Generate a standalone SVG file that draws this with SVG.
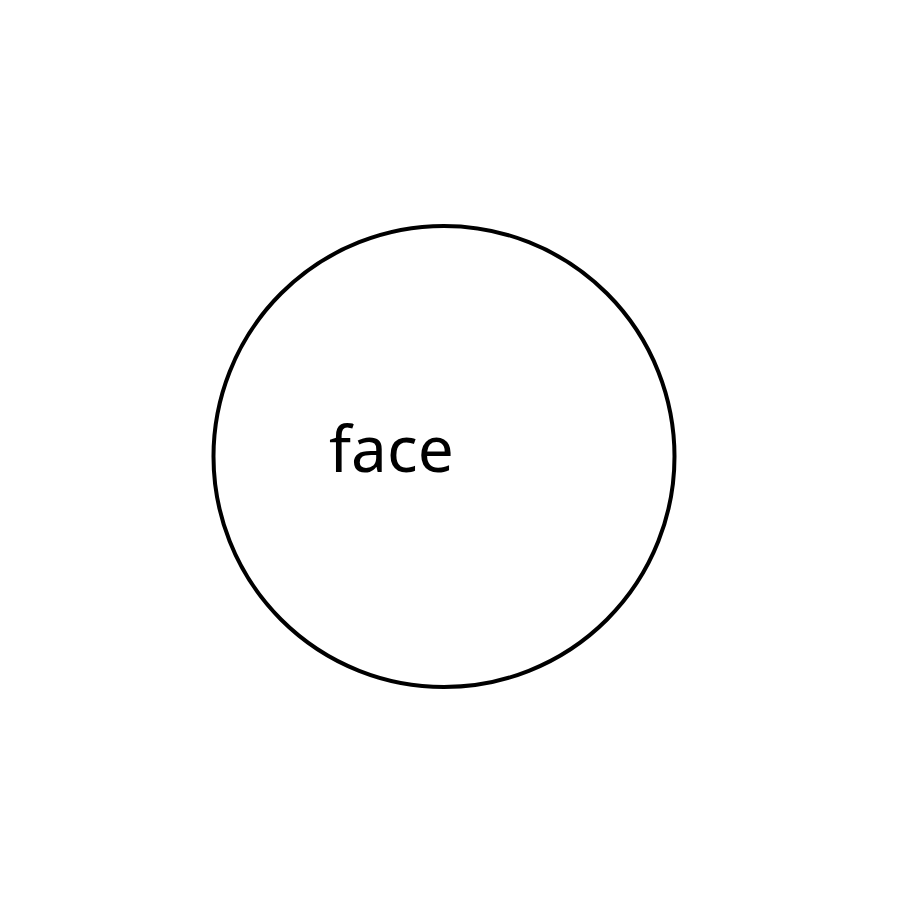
<svg xmlns="http://www.w3.org/2000/svg" width="900" height="900" viewBox="0 0 900 900">
<style>
.node{fill:#fff;stroke:#000;stroke-width:4}
.label{font-family:"Noto Sans","DejaVu Sans",sans-serif;font-size:64px;fill:#000}
</style>
<rect width="900" height="900" fill="#fff"/>
<g id="connectors"></g>
<g id="face">
<circle class="node" cx="444" cy="456.5" r="230.5"/>
<text class="label" x="329" y="472">face</text>
</g>
</svg>
